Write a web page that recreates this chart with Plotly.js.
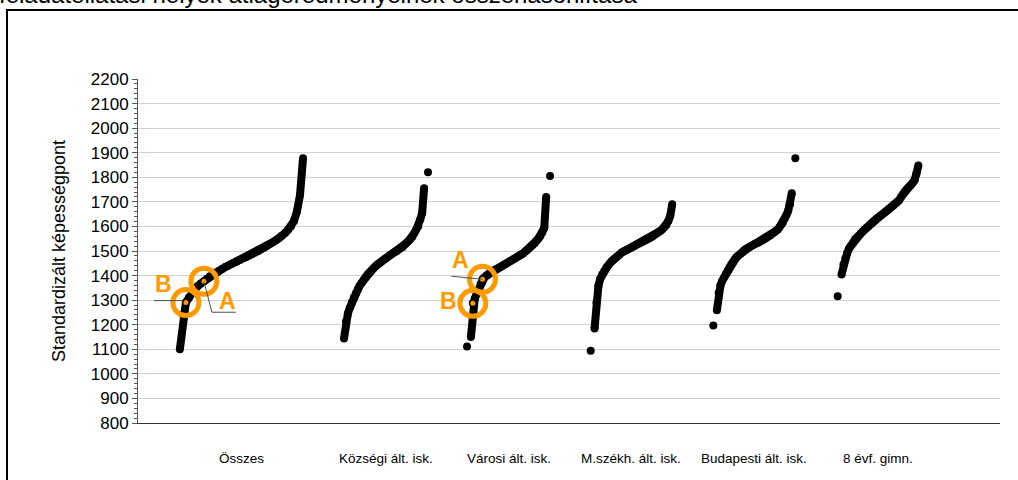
<!DOCTYPE html>
<html><head><meta charset="utf-8">
<script src="https://cdn.plot.ly/plotly-3.0.1.min.js"></script>
<style>
html,body{margin:0;padding:0;background:#fff;overflow:hidden;}
#wrap{position:relative;width:1018px;height:480px;overflow:hidden;}
#frame{position:absolute;left:6px;top:9px;width:1100px;height:600px;border:2px solid #000;box-sizing:border-box;}
#ttl{position:absolute;left:-1px;top:-19px;font:24px "Liberation Sans",Arial,sans-serif;white-space:nowrap;color:#000;}
#chart{position:absolute;left:0;top:0;width:1018px;height:480px;}
</style></head>
<body><div id="wrap"><div id="ttl"></div><div id="frame"></div><div id="chart"></div></div>
<script>
// ---------- DATA ----------
const titleText = 'feladatellátási helyek átlageredményeinek összehasonlítása';
const yAxisTitle = 'Standardizált képességpont';
const categories = ['Összes', 'Községi ált. isk.', 'Városi ált. isk.', 'M.székh. ált. isk.', 'Budapesti ált. isk.', '8 évf. gimn.'];

// sorted site averages per group (null = visible gap between neighbouring sites)
const osszes = [1100, 1242, 1290, 1310, 1328, 1348, 1358, 1368, 1377, 1387, 1397, 1405, 1412, 1420, 1427, 1434, 1440, 1446, 1452, 1457, 1463, 1469, 1475, 1481, 1487, 1493, 1499, 1506, 1513, 1520, 1528, 1536, 1544, 1552, 1562, 1573, 1586, 1601, 1622, 1662, 1728, 1877];
const kozsegi = [1144, 1213, 1246, 1269, 1291, 1311, 1327, 1343, 1359, 1370, 1382, 1393, 1404, 1413, 1421, 1429, 1437, 1445, 1450, 1456, 1462, 1468, 1474, 1480, 1485, 1490, 1495, 1500, 1506, 1511, 1516, 1525, 1533, 1541, 1549, 1558, 1573, 1587, 1601, 1628, 1655, 1755, null, 1820];
const varosi = [1111, null, 1150, 1287, 1306, 1325, 1343, 1366, 1385, 1392, 1399, 1405, 1412, 1418, 1422, 1426, 1430, 1434, 1438, 1443, 1447, 1452, 1457, 1461, 1466, 1471, 1476, 1481, 1486, 1490, 1497, 1503, 1510, 1517, 1524, 1532, 1542, 1551, 1561, 1575, 1594, 1720, null, 1805];
const mszekh = [1094, null, 1185, 1290, 1359, 1388, 1405, 1419, 1432, 1441, 1451, 1460, 1467, 1474, 1480, 1487, 1494, 1498, 1502, 1506, 1510, 1514, 1518, 1522, 1527, 1531, 1535, 1539, 1543, 1547, 1551, 1555, 1560, 1566, 1571, 1577, 1582, 1590, 1598, 1606, 1622, 1643, 1690];
const budapesti = [1197, null, 1259, 1330, 1360, 1379, 1392, 1406, 1420, 1433, 1445, 1455, 1466, 1475, 1481, 1488, 1494, 1501, 1507, 1511, 1515, 1519, 1523, 1527, 1531, 1534, 1538, 1542, 1546, 1550, 1555, 1559, 1564, 1570, 1575, 1581, 1586, 1596, 1606, 1616, 1631, 1647, 1664, 1690, 1735, null, 1877];
const gimn8 = [1316, null, 1404, 1445, 1469, 1493, 1511, 1523, 1535, 1548, 1555, 1563, 1571, 1579, 1587, 1595, 1602, 1609, 1616, 1623, 1630, 1636, 1642, 1648, 1654, 1660, 1666, 1672, 1679, 1685, 1692, 1699, 1707, 1720, 1732, 1743, 1752, 1760, 1768, 1777, 1788, 1815, 1848];
const groupValues = [osszes, kozsegi, varosi, mszekh, budapesti, gimn8];

// the two highlighted sites (A, B) in two groups
const markLabels = ['A', 'B', 'A', 'B'];
const markGroups = [0, 0, 2, 2];
const markValues = [1377, 1290, 1385, 1287];

// ---------- LAYOUT / STYLE ----------
const groupSpans = [[0.34, 1.34], [1.673, 2.355], [2.672, 3.346], [3.676, 4.338], [4.672, 5.338], [5.682, 6.337]];
const ORANGE = '#FF9900';
const FONT = '"Liberation Sans", Arial, sans-serif';
// label offsets (px, screen: +x right, +y down) and leader polylines
const markDecor = [
  {dx: 24, dy: 20, leader: [[0, 0], [8, 31], [32, 31]]},
  {dx: -22, dy: -19, leader: [[-32, -2], [-3, -2]]},
  {dx: -22, dy: -19, leader: [[-31, -3], [0, 0]]},
  {dx: -24, dy: -2, leader: null}
];

document.getElementById('ttl').textContent = titleText;

function groupX(g) {
  const vals = groupValues[g], s = groupSpans[g];
  return vals.map((v, i) => s[0] + (s[1] - s[0]) * i / (vals.length - 1));
}

const traces = [];
groupValues.forEach((vals, g) => {
  traces.push({
    type: 'scatter', mode: 'lines+markers', x: groupX(g), y: vals,
    connectgaps: false, cliponaxis: false, hoverinfo: 'skip', showlegend: false,
    line: {color: '#000', width: 8},
    marker: {color: '#000', size: 8}
  });
});

const mx = [], my = [];
markValues.forEach((v, k) => {
  const g = markGroups[k];
  const vals = groupValues[g];
  let best = 0, bd = Infinity;
  vals.forEach((u, i) => { if (u !== null && Math.abs(u - v) < bd) { bd = Math.abs(u - v); best = i; } });
  mx.push(groupX(g)[best]); my.push(vals[best]);
});

traces.push({type: 'scatter', mode: 'markers', x: mx, y: my, hoverinfo: 'skip', showlegend: false,
  marker: {symbol: 'circle-open', size: 26, color: ORANGE, line: {width: 5, color: ORANGE}}});
traces.push({type: 'scatter', mode: 'markers', x: mx, y: my, hoverinfo: 'skip', showlegend: false,
  marker: {size: 5, color: ORANGE}});

const annotations = [];
const shapes = [];
markLabels.forEach((lab, k) => {
  const d = markDecor[k];
  annotations.push({x: mx[k], y: my[k], xref: 'x', yref: 'y', text: '<b>' + lab + '</b>', showarrow: false,
    xshift: d.dx, yshift: -d.dy, font: {family: FONT, size: 23, color: ORANGE}});
  if (d.leader) {
    const p = d.leader.map((pt, i) => (i ? 'L' : 'M') + pt[0] + ',' + (-pt[1])).join(' ');
    shapes.push({type: 'path', xref: 'x', yref: 'y', xsizemode: 'pixel', ysizemode: 'pixel',
      xanchor: mx[k], yanchor: my[k], path: p, line: {color: '#505050', width: 1}, layer: 'above'});
  }
});

categories.forEach((c, g) => {
  annotations.push({x: (groupSpans[g][0] + groupSpans[g][1]) / 2, y: 0, xref: 'x', yref: 'paper',
    yanchor: 'middle', yshift: -35, text: c, showarrow: false, font: {family: FONT, size: 13.5, color: '#000'}});
});

const layout = {
  width: 1018, height: 480,
  margin: {l: 138, r: 18, t: 79, b: 57},
  paper_bgcolor: 'rgba(0,0,0,0)', plot_bgcolor: 'rgba(0,0,0,0)',
  font: {family: FONT, color: '#000'},
  showlegend: false,
  xaxis: {range: [0, 7], showgrid: false, zeroline: false, showticklabels: false, ticks: '',
    showline: true, linecolor: '#333', linewidth: 1, fixedrange: true},
  yaxis: {range: [800, 2200], tick0: 800, dtick: 100, showgrid: true, gridcolor: '#D0D0D0', gridwidth: 1,
    zeroline: false, showline: true, linecolor: '#555', linewidth: 1,
    ticks: 'outside', ticklen: 5, tickcolor: '#555', tickwidth: 1,
    tickfont: {family: FONT, size: 17, color: '#000'},
    minor: {dtick: 20, ticks: 'outside', ticklen: 3, tickcolor: '#555', showgrid: false},
    title: {text: yAxisTitle, font: {family: FONT, size: 18, color: '#000'}, standoff: 20},
    fixedrange: true},
  annotations: annotations,
  shapes: shapes
};

Plotly.newPlot('chart', traces, layout, {staticPlot: true, displayModeBar: false});
</script>
</body></html>
